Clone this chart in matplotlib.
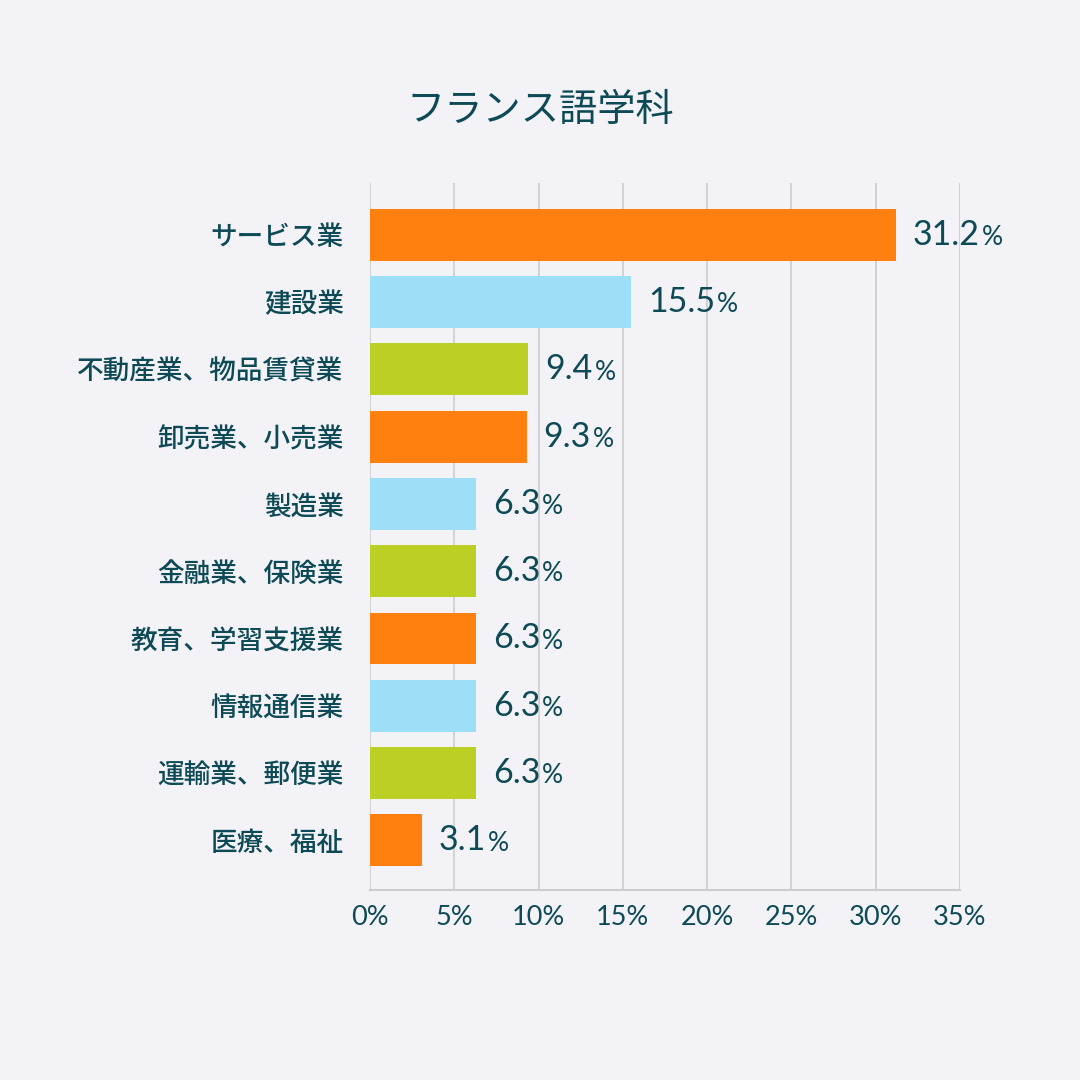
import matplotlib.pyplot as plt
from matplotlib.ticker import FuncFormatter

categories = [
    "サービス業",
    "建設業",
    "不動産業、物品賃貸業",
    "卸売業、小売業",
    "製造業",
    "金融業、保険業",
    "教育、学習支援業",
    "情報通信業",
    "運輸業、郵便業",
    "医療、福祉",
]
values = [31.2, 15.5, 9.4, 9.3, 6.3, 6.3, 6.3, 6.3, 6.3, 3.1]
bar_colors = [
    "#ff7f0f", "#9ddff7", "#bccf25",
    "#ff7f0f", "#9ddff7", "#bccf25",
    "#ff7f0f", "#9ddff7", "#bccf25",
    "#ff7f0f",
]
x_ticks = [0, 5, 10, 15, 20, 25, 30, 35]
title = "フランス語学科"

BG = "#f2f2f7"
TEXT = "#0e4a55"
GRID = "#cccccc"
JP = ["Noto Sans CJK JP", "DejaVu Sans"]
NUM = ["Lato", "DejaVu Sans"]


def main():
    fig = plt.figure(figsize=(10.8, 10.8), dpi=100, facecolor=BG)
    ax = fig.add_axes([0.3426, 0.1759, 0.5463, 0.6546], facecolor=BG)

    y = list(range(len(categories)))
    ax.barh(y, values, height=0.77, color=bar_colors, zorder=3)

    ax.set_xlim(0, 35)
    ax.set_ylim(9.74, -0.77)
    ax.set_xticks(x_ticks)
    ax.xaxis.set_major_formatter(FuncFormatter(lambda v, p: f"{v:.0f}%"))
    ax.set_yticks(y)
    ax.set_yticklabels(categories, family=JP, fontsize=19.2, weight="medium", color=TEXT)
    for lab in ax.get_xticklabels():
        lab.set_family(NUM)
        lab.set_fontsize(19.5)
        lab.set_color(TEXT)

    ax.tick_params(axis="both", length=0)
    ax.tick_params(axis="y", pad=19)
    ax.tick_params(axis="x", pad=11)
    ax.grid(axis="x", color=GRID, linewidth=1.2, zorder=0)
    for side in ["top", "right", "left"]:
        ax.spines[side].set_visible(False)
    ax.spines["bottom"].set_color(GRID)
    ax.spines["bottom"].set_linewidth(1.5)

    fig.canvas.draw()
    renderer = fig.canvas.get_renderer()
    inv = ax.transData.inverted()
    for yi, v in zip(y, values):
        t = ax.annotate(f"{v:.1f}", (v, yi), xytext=(12, 0), textcoords="offset points",
                        va="center", ha="left", family=NUM, fontsize=24.5, color=TEXT,
                        annotation_clip=False)
        bb = t.get_window_extent(renderer)
        xe, _ = inv.transform((bb.x1 + 2, 0))
        ax.annotate("%", (xe, yi), xytext=(0, -2), textcoords="offset points",
                    va="center", ha="left", family=NUM, fontsize=19, color=TEXT,
                    annotation_clip=False)

    fig.text(0.5, 0.898, title, ha="center", va="center", family=JP,
             fontsize=27.5, color=TEXT)

    fig.savefig("out.png", dpi=100, facecolor=BG)


if __name__ == "__main__":
    main()
